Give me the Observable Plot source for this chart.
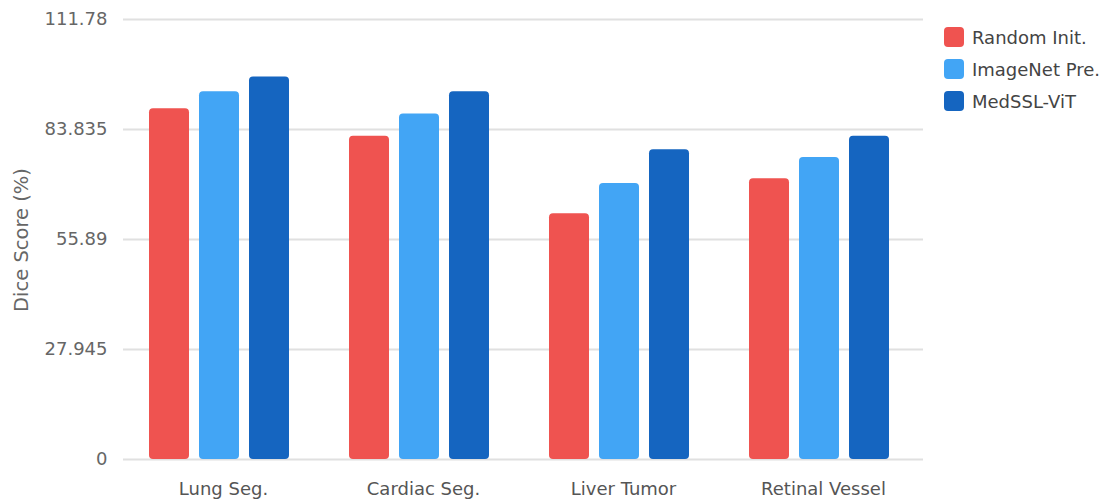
<!DOCTYPE html>
<html>
<head>
<meta charset="utf-8">
<script src="https://cdn.jsdelivr.net/npm/d3@7"></script>
<script src="https://cdn.jsdelivr.net/npm/@observablehq/plot@0.6"></script>
<style>
  body { margin: 0; background: #fff; }
  #wrap { position: relative; width: 1103px; height: 502px; font-family: "DejaVu Sans", sans-serif; }
  #ylabel { position: absolute; left: 21px; top: 240px; transform: translate(-50%, -50%) rotate(-90deg); font-size: 19.5px; color: #666; white-space: nowrap; }
  #legend { position: absolute; left: 944px; top: 27px; }
  .item { display: flex; align-items: center; height: 20px; margin-bottom: 12px; font-size: 18px; color: #444; white-space: nowrap; }
  .sw { width: 20px; height: 20px; border-radius: 4px; margin-right: 8px; }
</style>
</head>
<body>
<div id="wrap"></div>
<script>
const tasks = ["Lung Seg.", "Cardiac Seg.", "Liver Tumor", "Retinal Vessel"];
const methods = ["Random Init.", "ImageNet Pre.", "MedSSL-ViT"];
const colors = ["#EF5350", "#42A5F5", "#1565C0"];
const randomInit = [89.1, 82.1, 62.4, 71.3];
const imagenetPre = [93.4, 87.8, 70.1, 76.7];
const medsslVit = [97.2, 93.4, 78.7, 82.1];
const yTicks = [0, 27.945, 55.89, 83.835, 111.78];
const yTickLabels = ["0", "27.945", "55.89", "83.835", "111.78"];
const yLabel = "Dice Score (%)";

const series = [randomInit, imagenetPre, medsslVit];
const data = [];
tasks.forEach((t, i) => methods.forEach((m, j) => data.push({task: t, method: m, value: series[j][i]})));

const chart = Plot.plot({
  width: 1103,
  height: 502,
  marginLeft: 119,
  marginRight: 184,
  marginTop: 19,
  marginBottom: 43,
  style: {fontFamily: "DejaVu Sans, sans-serif", fontSize: "18px", color: "#666", background: "#fff"},
  fx: {domain: tasks, padding: 0, label: null},
  x: {domain: methods, paddingInner: 0.2, paddingOuter: 0.6, axis: null},
  y: {domain: [0, 111.78], label: null},
  color: {domain: methods, range: colors},
  marks: [
    Plot.ruleY(yTicks, {stroke: "#e0e0e0", strokeWidth: 2, dx: 4}),
    Plot.barY(data, {fx: "task", x: "method", y: "value", fill: "method", rx: 4}),
    Plot.axisY({ticks: yTicks, tickSize: 0, tickPadding: 12, tickFormat: d => yTickLabels[yTicks.indexOf(d)], label: null, fill: "#666", fontSize: 18}),
    Plot.axisFx({anchor: "bottom", tickSize: 0, tickPadding: 23, dx: 4, label: null, fill: "#555", fontSize: 18})
  ]
});

const wrap = document.getElementById("wrap");
wrap.appendChild(chart);

const yl = document.createElement("div");
yl.id = "ylabel";
yl.textContent = yLabel;
wrap.appendChild(yl);

const lg = document.createElement("div");
lg.id = "legend";
methods.forEach((m, j) => {
  const it = document.createElement("div");
  it.className = "item";
  const sw = document.createElement("div");
  sw.className = "sw";
  sw.style.background = colors[j];
  const tx = document.createElement("span");
  tx.textContent = m;
  it.appendChild(sw);
  it.appendChild(tx);
  lg.appendChild(it);
});
wrap.appendChild(lg);
</script>
</body>
</html>
